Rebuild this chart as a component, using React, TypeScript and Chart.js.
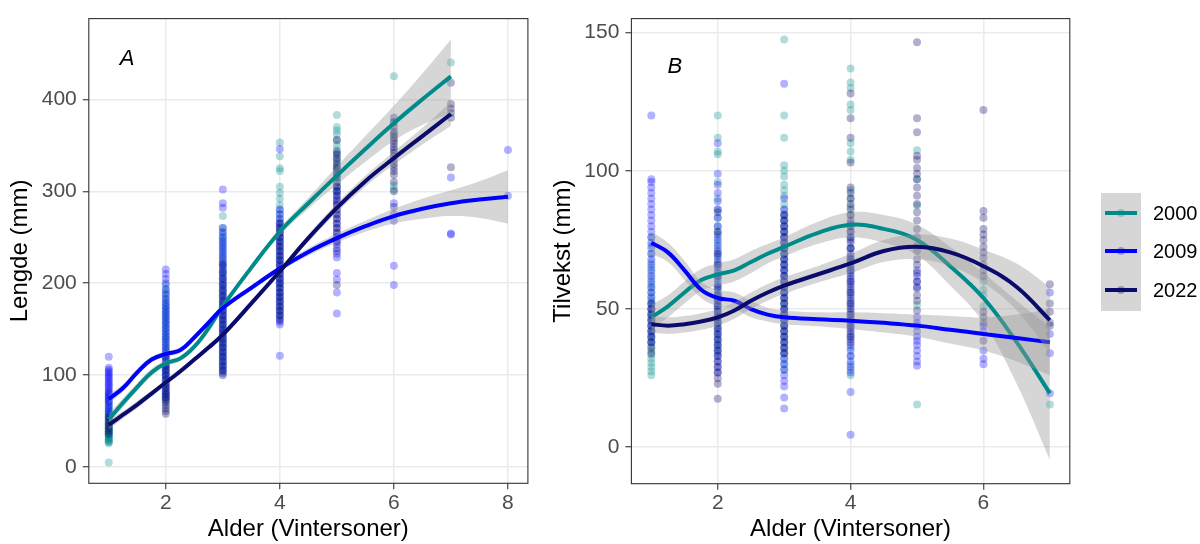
import React, { useEffect, useRef } from "react";
import { Chart, registerables } from "chart.js";

Chart.register(...registerables);

const FONT = '"Liberation Sans", Arial, Helvetica, sans-serif';

const YEARS = ["2000", "2009", "2022"];
const LINE_COLORS = ["#008b8b", "#0000ff", "#0b0b6b"];
const POINT_COLORS = ["rgba(0,139,139,0.3)", "rgba(0,0,255,0.3)", "rgba(11,11,107,0.32)"];
const BAND_COLOR = "rgba(153,153,153,0.4)";

// ---------- Panel A: Lengde (mm) by age ----------
const AGES_A = [1, 2, 3, 4, 5, 6, 7, 8];
const LEN_2000 = [
  [5, 26, 27, 28, 29, 30, 31, 32, 33, 34, 35, 36, 37, 38, 39, 40, 41, 42, 43, 44, 45, 46, 47, 48, 50, 52, 54, 56, 58, 60, 62, 65, 68, 72, 76, 80],
  [72, 76, 80, 84, 88, 92, 96, 100, 103, 106, 109, 112, 115, 118, 121, 124, 127, 130, 133, 136, 139, 142, 145, 148, 151, 154, 157, 160, 163, 166, 169, 172, 175, 178, 182, 186, 190, 194, 198],
  [104, 108, 112, 116, 120, 124, 128, 132, 136, 140, 144, 148, 152, 156, 160, 164, 168, 172, 176, 180, 184, 188, 192, 196, 200, 204, 208, 212, 216, 220, 224, 228, 232, 236, 240, 244, 248, 252, 256, 260, 273],
  [165, 170, 175, 180, 185, 190, 195, 200, 205, 210, 215, 220, 225, 230, 235, 240, 245, 250, 255, 260, 265, 270, 275, 280, 285, 292, 298, 305, 322, 325, 338, 353],
  [300, 305, 310, 315, 320, 325, 330, 335, 340, 345, 350, 355, 362, 366, 370, 383],
  [302, 306, 360, 375, 425],
  [440],
  [],
];
const LEN_2009 = [
  [55, 58, 61, 64, 67, 70, 72, 74, 76, 78, 80, 82, 84, 86, 88, 90, 92, 94, 96, 98, 100, 102, 104, 106, 108, 120],
  [75, 79, 83, 87, 91, 95, 99, 103, 107, 111, 115, 119, 123, 127, 131, 135, 139, 143, 147, 151, 155, 159, 163, 167, 171, 175, 179, 183, 188, 193, 200, 205, 210, 215],
  [102, 106, 110, 114, 118, 122, 126, 130, 134, 138, 142, 146, 150, 154, 158, 162, 166, 170, 174, 178, 182, 186, 190, 194, 198, 202, 206, 210, 214, 218, 222, 226, 230, 234, 238, 242, 246, 250, 255, 260, 282, 287, 302],
  [121, 155, 158, 162, 166, 170, 174, 178, 182, 186, 190, 194, 198, 202, 206, 210, 214, 218, 222, 226, 230, 234, 238, 242, 246, 250, 254, 258, 262, 266, 270, 275, 280, 346],
  [167, 190, 204, 211, 228, 232, 238, 242, 246, 250, 255, 260, 265, 270, 275, 280, 285, 288, 292, 296, 300, 305],
  [198, 219, 268, 275, 287],
  [253, 254, 315],
  [295, 345],
];
const LEN_2022 = [
  [36, 39, 42, 45, 48, 51, 54],
  [58, 61, 64, 67, 70, 73, 76, 79, 82, 86, 90, 95, 100, 105, 110, 120],
  [100, 105, 110, 115, 120, 125, 130, 135, 140, 145, 150, 155, 160, 165, 170, 175, 180, 186, 192, 198, 205, 212, 220],
  [160, 165, 170, 175, 180, 185, 190, 195, 200, 205, 210, 215, 220, 225, 230, 235, 240, 245, 250, 255, 260, 265],
  [198, 235, 245, 250, 255, 260, 265, 270, 275, 280, 285, 290, 295, 300, 305, 310, 315, 318, 322, 325, 328, 332, 336, 340, 343, 356],
  [283, 300, 310, 318, 322, 326, 330, 334, 338, 342, 345, 348, 352, 355, 358, 362, 365, 370, 375, 380],
  [326, 380, 385, 390, 395, 418],
  [],
];

// smooth fits and half-widths of their grey bands
const FIT_X_A7 = [1, 1.25, 1.5, 1.75, 2, 2.25, 2.5, 2.75, 3, 3.5, 4, 4.5, 5, 5.5, 6, 6.5, 7];
const FIT_X_A8 = [1, 1.25, 1.5, 1.75, 2, 2.25, 2.5, 2.75, 3, 3.5, 4, 4.5, 5, 5.5, 6, 6.5, 7, 7.5, 8];
const FIT_A_2000 = [52, 70, 87, 103, 113, 118, 131, 151, 175, 217, 256, 287, 317, 346, 374, 400, 425];
const BAND_A_2000 = [6, 5, 4, 4, 3, 3, 3, 3, 3, 3, 4, 6, 10, 14, 19, 28, 40];
const FIT_A_2009 = [74, 86, 103, 117, 123, 127, 141, 157, 173, 195, 216, 234, 249, 262, 273, 281, 287, 291, 294];
const BAND_A_2009 = [5, 4, 4, 3, 3, 3, 3, 3, 3, 3, 3, 4, 5, 6, 8, 11, 14, 20, 29];
const FIT_A_2022 = [46, 57, 68, 80, 92, 104, 117, 130, 144, 178, 213, 249, 282, 311, 336, 360, 384];
const BAND_A_2022 = [5, 4, 4, 3, 3, 3, 3, 3, 3, 3, 3, 4, 5, 6, 7, 9, 13];

const X_TICKS_A = [2, 4, 6, 8];
const Y_TICKS_A = [0, 100, 200, 300, 400];

// ---------- Panel B: Tilvekst (mm) by age ----------
const AGES_B = [1, 2, 3, 4, 5, 6, 7];
const TIL_2000 = [
  [26, 27.5, 29, 30.5, 32, 33.5, 35, 36.5, 38, 39.5, 41, 42.5, 44, 45.5, 47, 48.5, 50, 51.5, 53, 54.5, 56, 57.5, 59, 61, 63, 65, 67, 70, 73, 76],
  [34, 36, 38, 40, 42, 44, 46, 48, 50, 52, 54, 56, 58, 60, 62, 64, 66, 68, 70, 72, 74, 76, 78, 80, 83, 86, 90, 96, 106, 107, 112, 120],
  [28, 30, 32, 34, 36, 38, 40, 42, 44, 46, 48, 50, 52, 54, 56, 58, 60, 62, 64, 66, 68, 70, 72, 74, 76, 78, 80, 82, 84, 86, 88, 91, 93, 95, 98, 100, 102, 112, 120, 147.5],
  [26, 28, 30, 33, 36, 40, 44, 48, 52, 56, 60, 64, 68, 72, 76, 80, 84, 87, 90, 93, 104, 107, 110, 122, 124, 130, 132, 137],
  [15.5, 51.5, 87.5, 97, 107.5],
  [51, 55, 57, 60],
  [15.5],
];
const TIL_2009 = [
  [38, 40, 42, 44, 46, 48, 50, 52, 54, 56, 58, 60, 62, 64, 66, 68, 70, 72, 74, 76, 78, 80, 82, 84, 86, 88, 90, 92, 94, 96, 97, 120],
  [27, 29, 31, 33, 35, 37, 39, 41, 43, 45, 47, 49, 51, 53, 55, 57, 59, 61, 63, 65, 67, 69, 71, 73, 75, 77, 80, 83, 86, 89, 92, 95, 99, 110],
  [14, 18, 22, 24, 26, 28, 30, 32, 34, 36, 38, 40, 42, 44, 46, 48, 50, 52, 54, 56, 58, 60, 62, 64, 66, 68, 70, 72, 74, 76, 78, 80, 82, 84, 86, 90, 131.5],
  [4.5, 20, 27, 29, 31, 33, 35, 37, 39, 41, 43, 45, 47, 49, 51, 53, 55, 57, 59, 61, 63, 65, 67, 69, 72, 75, 78, 81],
  [29.5, 31, 33, 35, 37, 38.5, 40, 42, 44, 45, 47, 58, 60, 62, 64],
  [30, 32, 35, 42, 44],
  [19.5, 34, 41, 56],
];
const TIL_2022 = [
  [34, 36, 38, 40, 42, 44, 46, 48, 50, 52],
  [17.5, 23, 25, 27, 29, 31, 33, 35, 37, 39, 41, 43, 45, 47, 49, 51, 53, 55, 58, 62, 66, 70, 78, 85],
  [34, 36, 38, 40, 42, 44, 46, 48, 50, 52, 54, 56, 58, 60, 62, 64, 66, 68, 70, 72, 74, 76, 78, 80, 82, 84],
  [38, 40, 42, 44, 46, 48, 50, 52, 54, 56, 58, 60, 62, 64, 66, 68, 70, 72, 74, 76, 78, 80, 82, 84, 86, 88, 90, 92, 94, 103, 112, 119, 128],
  [49.5, 53, 55, 57.5, 60, 63, 66, 68, 71, 73, 76, 79, 82, 85, 88, 91, 94, 97, 99, 101, 104, 105.5, 114, 119, 146.5],
  [38.5, 45, 47, 49, 62, 64, 66, 68.5, 70.5, 72.5, 75, 77, 79, 83, 85.5, 122],
  [44, 45, 49, 52, 59],
];

const FIT_X_B = [1, 1.25, 1.5, 1.75, 2, 2.25, 2.5, 2.75, 3, 3.5, 4, 4.5, 5, 5.5, 6, 6.5, 7];
const FIT_B_2000 = [47, 51, 56, 60.5, 62.5, 64, 67, 70, 72.5, 77.5, 80.5, 79, 75, 65.5, 54, 38, 19.5];
const BAND_B_2000 = [4.5, 4, 4, 4, 4, 4, 4, 3.5, 3.5, 4, 4.5, 5, 5.5, 7, 9, 15, 24];
const FIT_B_2009 = [74, 70.5, 64, 57, 54, 53, 50, 48, 47, 46.3, 45.8, 45, 44, 42.5, 41, 39.5, 38];
const BAND_B_2009 = [4, 3.5, 3.5, 3, 3, 3, 3, 2.5, 2.5, 2.5, 3, 3.5, 4, 5, 6, 8.5, 12];
const FIT_B_2022 = [44.5, 44, 44.5, 45.5, 47, 49.5, 53, 56, 58.5, 62.5, 66.5, 71, 72.5, 70.5, 65.5, 58, 46];
const BAND_B_2022 = [3, 3, 3, 3, 3, 3, 3, 3, 3, 3, 3.5, 4, 4.5, 5, 6, 8.5, 12];

const X_TICKS_B = [2, 4, 6];
const Y_TICKS_B = [0, 50, 100, 150];

type Fit = { x: number[]; y: number[]; se: number[] };

const CURVE = { tension: 0.4, cubicInterpolationMode: "default" };

function buildDatasets(ages: number[], scatter: number[][][], fits: Fit[]) {
  const ds: any[] = [];
  scatter.forEach((byAge, i) => {
    const pts: { x: number; y: number }[] = [];
    byAge.forEach((vals, k) => vals.forEach((v) => pts.push({ x: ages[k], y: v })));
    ds.push({
      label: YEARS[i] + " points",
      data: pts,
      showLine: false,
      pointRadius: 4,
      pointHoverRadius: 4,
      pointBackgroundColor: POINT_COLORS[i],
      pointBorderWidth: 0,
      pointBorderColor: "rgba(0,0,0,0)",
      order: 30 - i,
    });
  });
  fits.forEach((f, i) => {
    const base = 12 - 3 * i;
    ds.push({
      label: YEARS[i] + " upper",
      data: f.x.map((x, k) => ({ x, y: f.y[k] + f.se[k] })),
      fill: "+1",
      backgroundColor: BAND_COLOR,
      borderColor: "rgba(0,0,0,0)",
      borderWidth: 0,
      pointRadius: 0,
      ...CURVE,
      order: base,
    });
    ds.push({
      label: YEARS[i] + " lower",
      data: f.x.map((x, k) => ({ x, y: f.y[k] - f.se[k] })),
      fill: false,
      borderColor: "rgba(0,0,0,0)",
      borderWidth: 0,
      pointRadius: 0,
      ...CURVE,
      order: base,
    });
    ds.push({
      label: YEARS[i],
      data: f.x.map((x, k) => ({ x, y: f.y[k] })),
      fill: false,
      borderColor: LINE_COLORS[i],
      borderWidth: 4,
      pointRadius: 0,
      ...CURVE,
      borderCapStyle: "butt",
      order: base - 1,
    });
  });
  return ds;
}

const framePlugin = {
  id: "frame",
  afterDraw(chart: any, _args: any, opts: any) {
    const { ctx, chartArea: a, scales } = chart;
    ctx.save();
    ctx.strokeStyle = "#333333";
    ctx.lineWidth = 1.1;
    ctx.strokeRect(a.left, a.top, a.right - a.left, a.bottom - a.top);
    ctx.fillStyle = "#000000";
    ctx.font = "italic 22px " + FONT;
    ctx.textAlign = "center";
    ctx.textBaseline = "middle";
    ctx.fillText(opts.tag, scales.x.getPixelForValue(opts.tagX), scales.y.getPixelForValue(opts.tagY));
    ctx.restore();
  },
};

type PanelSpec = {
  ages: number[];
  scatter: number[][][];
  fits: Fit[];
  xMin: number;
  xMax: number;
  yMin: number;
  yMax: number;
  xTicks: number[];
  yTicks: number[];
  xTitle: string;
  yTitle: string;
  yAxisWidth: number;
  xAxisHeight: number;
  padRight: number;
  padTop: number;
  tag: string;
  tagX: number;
  tagY: number;
};

function makeConfig(p: PanelSpec): any {
  const grid = {
    color: "#ebebeb",
    lineWidth: 1.5,
    drawTicks: true,
    tickLength: 6,
    tickColor: "#333333",
    tickWidth: 1.1,
  };
  return {
    type: "line",
    data: { datasets: buildDatasets(p.ages, p.scatter, p.fits) },
    plugins: [framePlugin],
    options: {
      responsive: false,
      animation: false,
      devicePixelRatio: 1,
      events: [],
      layout: { padding: { left: 0, top: p.padTop, right: p.padRight, bottom: 0 } },
      plugins: {
        legend: { display: false },
        tooltip: { enabled: false },
        frame: { tag: p.tag, tagX: p.tagX, tagY: p.tagY },
      },
      scales: {
        x: {
          type: "linear",
          min: p.xMin,
          max: p.xMax,
          afterBuildTicks: (s: any) => {
            s.ticks = p.xTicks.map((v) => ({ value: v }));
          },
          afterFit: (s: any) => {
            s.height = p.xAxisHeight;
          },
          grid,
          border: { display: false },
          ticks: {
            color: "#4d4d4d",
            font: { family: FONT, size: 21 },
            padding: 1,
            maxRotation: 0,
            autoSkip: false,
          },
          title: {
            display: true,
            text: p.xTitle,
            color: "#000000",
            font: { family: FONT, size: 24 },
            padding: { top: 0, bottom: 0 },
          },
        },
        y: {
          type: "linear",
          min: p.yMin,
          max: p.yMax,
          afterBuildTicks: (s: any) => {
            s.ticks = p.yTicks.map((v) => ({ value: v }));
          },
          afterFit: (s: any) => {
            s.width = p.yAxisWidth;
          },
          grid,
          border: { display: false },
          ticks: {
            color: "#4d4d4d",
            font: { family: FONT, size: 21 },
            padding: 6,
            autoSkip: false,
          },
          title: {
            display: true,
            text: p.yTitle,
            color: "#000000",
            font: { family: FONT, size: 24 },
            padding: { top: 6, bottom: 0 },
          },
        },
      },
    },
  };
}

const PANEL_A: PanelSpec = {
  ages: AGES_A,
  scatter: [LEN_2000, LEN_2009, LEN_2022],
  fits: [
    { x: FIT_X_A7, y: FIT_A_2000, se: BAND_A_2000 },
    { x: FIT_X_A8, y: FIT_A_2009, se: BAND_A_2009 },
    { x: FIT_X_A7, y: FIT_A_2022, se: BAND_A_2022 },
  ],
  xMin: 0.65,
  xMax: 8.35,
  yMin: -17.6,
  yMax: 487.8,
  xTicks: X_TICKS_A,
  yTicks: Y_TICKS_A,
  xTitle: "Alder (Vintersoner)",
  yTitle: "Lengde (mm)",
  yAxisWidth: 88.8,
  xAxisHeight: 60.7,
  padRight: 15.1,
  padTop: 15.3,
  tag: "A",
  tagX: 1.32,
  tagY: 443.5,
};

const PANEL_B: PanelSpec = {
  ages: AGES_B,
  scatter: [TIL_2000, TIL_2009, TIL_2022],
  fits: [
    { x: FIT_X_B, y: FIT_B_2000, se: BAND_B_2000 },
    { x: FIT_X_B, y: FIT_B_2009, se: BAND_B_2009 },
    { x: FIT_X_B, y: FIT_B_2022, se: BAND_B_2022 },
  ],
  xMin: 0.7,
  xMax: 7.3,
  yMin: -13.2,
  yMax: 155.1,
  xTicks: X_TICKS_B,
  yTicks: Y_TICKS_B,
  xTitle: "Alder (Vintersoner)",
  yTitle: "Tilvekst (mm)",
  yAxisWidth: 88.4,
  xAxisHeight: 60.3,
  padRight: 130.2,
  padTop: 15.3,
  tag: "B",
  tagX: 1.354,
  tagY: 137.7,
};

function Panel({ spec, left, width }: { spec: PanelSpec; left: number; width: number }) {
  const ref = useRef<HTMLCanvasElement>(null);
  useEffect(() => {
    const chart = new Chart(ref.current as HTMLCanvasElement, makeConfig(spec));
    return () => chart.destroy();
  }, []);
  return (
    <canvas
      ref={ref}
      width={width}
      height={544}
      style={{ position: "absolute", left, top: 0, width, height: 544 }}
    />
  );
}

function Legend() {
  const rowY = [212.7, 251.2, 289.7];
  return (
    <div>
      <div
        style={{
          position: "absolute",
          left: 1100.7,
          top: 193.3,
          width: 40.3,
          height: 117.7,
          background: "#d6d6d6",
        }}
      />
      {YEARS.map((y, i) => (
        <React.Fragment key={y}>
          <div
            style={{
              position: "absolute",
              left: 1117,
              top: rowY[i] - 4,
              width: 8,
              height: 8,
              borderRadius: 4,
              background: POINT_COLORS[i],
            }}
          />
          <div
            style={{
              position: "absolute",
              left: 1105,
              top: rowY[i] - 2,
              width: 32,
              height: 4,
              background: LINE_COLORS[i],
            }}
          />
          <div
            style={{
              position: "absolute",
              left: 1153,
              top: rowY[i] - 12,
              height: 24,
              lineHeight: "24px",
              fontFamily: FONT,
              fontSize: 20,
              color: "#000000",
              whiteSpace: "nowrap",
            }}
          >
            {y}
          </div>
        </React.Fragment>
      ))}
    </div>
  );
}

export default function App() {
  return (
    <div
      style={{
        position: "absolute",
        left: 0,
        top: 0,
        width: 1200,
        height: 544,
        background: "#ffffff",
        overflow: "hidden",
      }}
    >
      <Panel spec={PANEL_A} left={0} width={543} />
      <Panel spec={PANEL_B} left={543} width={657} />
      <Legend />
    </div>
  );
}
